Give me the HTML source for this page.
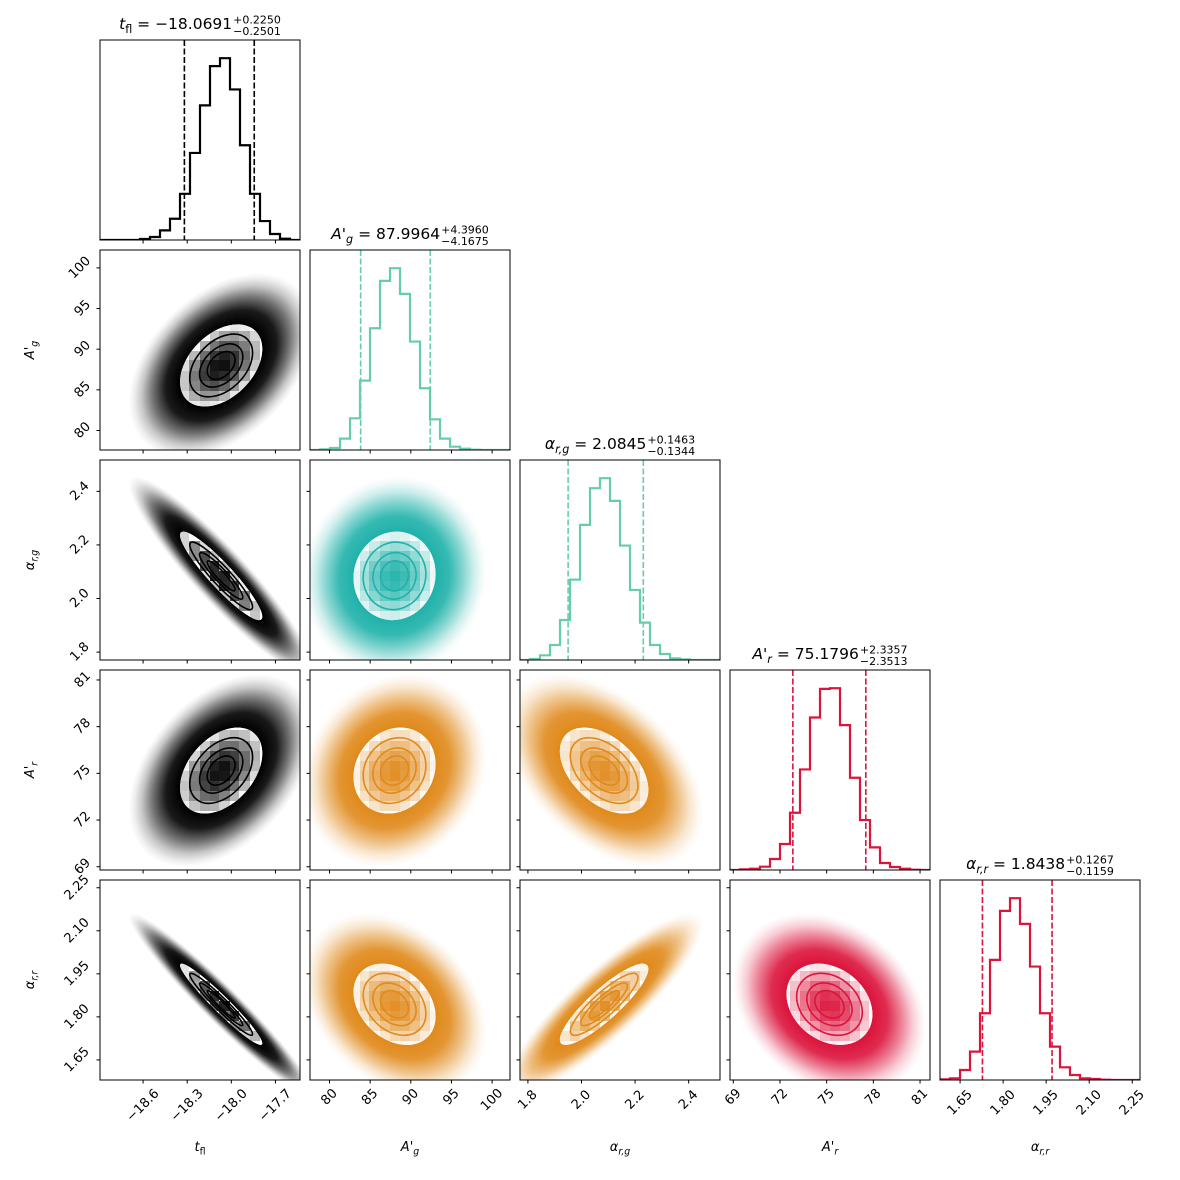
<!DOCTYPE html>
<html><head><meta charset="utf-8"><style>
html,body{margin:0;padding:0;background:#fff;}
svg{display:block;font-family:"DejaVu Sans","Liberation Sans",sans-serif;}
</style></head><body>
<svg id="fig" width="1180" height="1180" viewBox="0 0 1180 1180" xmlns="http://www.w3.org/2000/svg"><defs id="defs"></defs></svg>
<script>
// ---- data ----
const paramKeys = ["t_fl","Ag","arg","Ar","arr"];
const medians = [-18.0691, 87.9964, 2.0845, 75.1796, 1.8438];
const errPlus = [0.2250, 4.3960, 0.1463, 2.3357, 0.1267];
const errMinus = [0.2501, 4.1675, 0.1344, 2.3513, 0.1159];
const medianText = ["\u221218.0691","87.9964","2.0845","75.1796","1.8438"];
const plusText = ["+0.2250","+4.3960","+0.1463","+2.3357","+0.1267"];
const minusText = ["\u22120.2501","\u22124.1675","\u22120.1344","\u22122.3513","\u22120.1159"];
const sigmas = [0.237, 4.28, 0.14, 2.34, 0.12];
const rangeLo = [-18.893, 77.6, 1.7705, 68.79, 1.580];
const rangeHi = [-17.533, 102.2, 2.517, 81.64, 2.277];
const histT = [0,0,0,0,3,9,29,64,139,262,405,523,547,453,285,139,57,18,4,0];
const histAg = [0,2,6,34,95,208,365,507,545,468,325,185,92,34,10,4,1,0,0,0];
const histArg = [0,3,14,45,120,241,405,515,545,477,343,210,112,45,18,5,2,0,0,0];
const histAr = [0,2,4,10,33,78,172,302,458,544,546,435,277,150,68,21,9,4,1,0];
const histArr = [2,5,30,85,200,360,507,545,468,340,200,100,38,15,5,3,1,0,0,0];
const hists = [histT, histAg, histArg, histAr, histArr];
const ticksT = [-18.6,-18.3,-18.0,-17.7];
const ticksAg = [80,85,90,95,100];
const ticksArg = [1.8,2.0,2.2,2.4];
const ticksAr = [69,72,75,78,81];
const ticksArr = [1.65,1.80,1.95,2.10,2.25];
const tickLists = [ticksT, ticksAg, ticksArg, ticksAr, ticksArr];
const tickLabT = ["\u221218.6","\u221218.3","\u221218.0","\u221217.7"];
const tickLabAg = ["80","85","90","95","100"];
const tickLabArg = ["1.8","2.0","2.2","2.4"];
const tickLabAr = ["69","72","75","78","81"];
const tickLabArr = ["1.65","1.80","1.95","2.10","2.25"];
const tickLabLists = [tickLabT, tickLabAg, tickLabArg, tickLabAr, tickLabArr];
// correlations (row param vs col param)
const corrRow1 = [0.4];
const corrRow2 = [-0.92, 0.05];
const corrRow3 = [0.4, 0.15, -0.45];
const corrRow4 = [-0.96, -0.3, 0.87, -0.25];
const corrRows = [[], corrRow1, corrRow2, corrRow3, corrRow4];
const contourLevels = [0.4, 0.62, 0.9];
const fillLevel = 1.18;
// ---- styling ----
const histColors = ["#000000","#66cdaa","#66cdaa","#dc143c","#dc143c"];
function pairColor(r,c){ if(c===0) return "#000000"; if(r===2) return "#20b2aa"; if(r===4&&c===3) return "#dc143c"; return "#e08a1c"; }
const NS="http://www.w3.org/2000/svg";
const svg=document.getElementById("fig"), defs=document.getElementById("defs");
function el(tag, attrs, parent){ const e=document.createElementNS(NS,tag); for(const k in attrs) e.setAttribute(k,attrs[k]); (parent||svg).appendChild(e); return e; }
const P=200, G=10, X0=100, Y0=40;
function px0(c){return X0+c*(P+G);} function py0(r){return Y0+r*(P+G);}
function xs(i,v,c){ return px0(c)+(v-rangeLo[i])/(rangeHi[i]-rangeLo[i])*P; }
function ys(i,v,r){ return py0(r)+P-(v-rangeLo[i])/(rangeHi[i]-rangeLo[i])*P; }
function hexRgb(h){return [parseInt(h.substr(1,2),16),parseInt(h.substr(3,2),16),parseInt(h.substr(5,2),16)];}

// ---- panels ----
for(let r=0;r<5;r++){
 for(let c=0;c<=r;c++){
  const x0=px0(c), y0=py0(r);
  const g=el("g",{});
  
  
  const cp=el("clipPath",{id:"cp"+r+c},defs); el("rect",{x:x0,y:y0,width:P,height:P},cp);
  const inner=el("g",{"clip-path":"url(#cp"+r+c+")"},g);
  if(r===c){
   const h=hists[c], mx=Math.max(...h), nb=h.length;
   let d="";
   for(let b=0;b<nb;b++){
     const xa=xs(c,rangeLo[c]+(rangeHi[c]-rangeLo[c])*b/nb,c), xb=xs(c,rangeLo[c]+(rangeHi[c]-rangeLo[c])*(b+1)/nb,c);
     const yy=y0+P-h[b]/(mx*1.1)*P;
     d+=(b===0?"M"+xa+" "+yy:"L"+xa+" "+yy)+" L"+xb+" "+yy+" ";
   }
   const hp=el("path",{d:d,fill:"none",stroke:histColors[c],"stroke-width":2.2,"stroke-linejoin":"miter"},inner);
   
   
   [medians[c]-errMinus[c], medians[c]+errPlus[c]].forEach((q,qi)=>{
     const xq=xs(c,q,c);
     const ql=el("line",{x1:xq,x2:xq,y1:y0,y2:y0+P,stroke:histColors[c],"stroke-width":1.6,"stroke-dasharray":"6,2.5"},inner);
     
     
   });
  } else {
   const col=pairColor(r,c), rgb=hexRgb(col);
   const rho=corrRows[r][c];
   const sx=sigmas[c]*P/(rangeHi[c]-rangeLo[c]), sy=sigmas[r]*P/(rangeHi[r]-rangeLo[r]);
   const a=sx*sx, dd=sy*sy, cc=-rho*sx*sy;
   const th=0.5*Math.atan2(2*cc,a-dd)*180/Math.PI;
   const s=Math.sqrt(((a-dd)/2)**2+cc*cc);
   const l1=Math.sqrt((a+dd)/2+s), l2=Math.sqrt(Math.max((a+dd)/2-s,0.01));
   const cx=xs(c,medians[c],c), cy=ys(r,medians[r],r);
   const gid="gr"+r+c;
   const rg=el("radialGradient",{id:gid},defs);
   const stops=[[0,1],[0.45,1],[0.6,0.9],[0.74,0.55],[0.86,0.22],[0.94,0.07],[1,0]];
   stops.forEach(st=>el("stop",{offset:st[0],"stop-color":col,"stop-opacity":st[1]},rg));
   const R=2.65;
   const cloud=el("ellipse",{cx:cx,cy:cy,rx:R*l1,ry:R*l2,fill:"url(#"+gid+")",transform:"rotate("+th+" "+cx+" "+cy+")"},inner);
   
   
   el("ellipse",{cx:cx,cy:cy,rx:fillLevel*l1,ry:fillLevel*l2,fill:"#fff",transform:"rotate("+th+" "+cx+" "+cy+")"},inner);
   // density cells
   const cellG=el("g",{"shape-rendering":"crispEdges"},inner);
   
   
   const nb=20;
   for(let i=0;i<nb;i++)for(let j=0;j<nb;j++){
     const vx=rangeLo[c]+(rangeHi[c]-rangeLo[c])*(i+0.5)/nb, vy=rangeLo[r]+(rangeHi[r]-rangeLo[r])*(j+0.5)/nb;
     const dx=(vx-medians[c])/sigmas[c], dy=(vy-medians[r])/sigmas[r];
     const m2=(dx*dx-2*rho*dx*dy+dy*dy)/(1-rho*rho);
     if(Math.sqrt(m2)>fillLevel*2) continue;
     const t=Math.exp(-0.5*m2);
     const f=Math.max(0,Math.min(1,(t-0.45)/0.55))*0.95;
     const cr=Math.round(255+(rgb[0]-255)*f), cg=Math.round(255+(rgb[1]-255)*f), cb=Math.round(255+(rgb[2]-255)*f);
     const xa=Math.floor(xs(c,rangeLo[c]+(rangeHi[c]-rangeLo[c])*i/nb,c)), ya=Math.floor(ys(r,rangeLo[r]+(rangeHi[r]-rangeLo[r])*(j+1)/nb,r));
     el("rect",{x:xa,y:ya,width:P/nb+1,height:P/nb+1,fill:"rgb("+cr+","+cg+","+cb+")"},cellG);
   }
   const clipW=el("clipPath",{id:"cw"+r+c},defs);
   el("ellipse",{cx:cx,cy:cy,rx:fillLevel*l1,ry:fillLevel*l2,transform:"rotate("+th+" "+cx+" "+cy+")"},clipW);
   cellG.setAttribute("clip-path","url(#cw"+r+c+")");
   contourLevels.forEach((lv,li)=>{
     const ce=el("ellipse",{cx:cx,cy:cy,rx:lv*l1,ry:lv*l2,fill:"none",stroke:col,"stroke-width":1.6,transform:"rotate("+th+" "+cx+" "+cy+")"},inner);
     
     
   });
   // y ticks
   tickLists[r].forEach((tv,ti)=>{
     const ty=ys(r,tv,r);
     if(ty<y0-0.5||ty>y0+P+0.5) return;
     el("line",{x1:x0-3.5,x2:x0,y1:ty,y2:ty,stroke:"#000","stroke-width":1},g);
     if(c===0){
       const lab=tickLabLists[r][ti];
       const w=(lab.length*8+13)*0.7071;
       const tx=x0-7-w/2;
       const t=el("text",{x:tx,y:ty,"font-size":13,"text-anchor":"middle","dominant-baseline":"central",transform:"rotate(-45 "+tx+" "+ty+")"},svg);
       t.textContent=lab;
       
       
     }
   });
  }
  // x ticks
  tickLists[c].forEach((tv,ti)=>{
    const tx=xs(c,tv,c);
    if(tx<x0-0.5||tx>x0+P+0.5) return;
    el("line",{x1:tx,x2:tx,y1:y0+P,y2:y0+P+3.5,stroke:"#000","stroke-width":1},g);
    if(r===4){
      const lab=tickLabLists[c][ti];
      const w=(lab.length*8+13)*0.7071;
      const ty=y0+P+7+w/2;
      const t=el("text",{x:tx,y:ty,"font-size":13,"text-anchor":"middle","dominant-baseline":"central",transform:"rotate(-45 "+tx+" "+ty+")"},svg);
      t.textContent=lab;
      
      
    }
  });
  const fr=el("rect",{x:x0,y:y0,width:P,height:P,fill:"none",stroke:"#000","stroke-width":1},g);
  
  
 }
}

// ---- labels ----
function labelSpans(t,i,fs){
  const sub=(s,it)=>{const e=el("tspan",{"font-size":fs*0.72,"dy":fs*0.25,"font-style":it?"italic":"normal"},t);e.textContent=s;};
  const main=(s,it)=>{const e=el("tspan",{"font-style":it?"italic":"normal"},t);e.textContent=s;};
  if(i===0){main("t",true);sub("fl",false);}
  else if(i===1){main("A'",true);sub("g",true);}
  else if(i===2){main("\u03b1",true);sub("r,g",true);}
  else if(i===3){main("A'",true);sub("r",true);}
  else {main("\u03b1",true);sub("r,r",true);}
}
for(let i=0;i<5;i++){
  const cx=px0(i)+P/2;
  const xl=el("text",{x:cx,y:1151,"font-size":13,"text-anchor":"middle"});
  labelSpans(xl,i,13);
  
  
  if(i>0){
    const cy=py0(i)+P/2;
    const yl=el("text",{x:34,y:cy,"font-size":13,"text-anchor":"middle",transform:"rotate(-90 34 "+cy+")"});
    labelSpans(yl,i,13);
    
    
  }
  // title
  const tg=el("g",{});
  
  
  const top=py0(i);
  const tt=el("text",{x:0,y:top-11,"font-size":15.5},tg);
  labelSpans(tt,i,15.5);
  const rest=el("tspan",{dy:-15.5*0.25},tt); rest.textContent=" = "+medianText[i];
  const w=tt.getComputedTextLength();
  const sp=el("text",{x:w+1,y:top-16.5,"font-size":11},tg); sp.textContent=plusText[i];
  const sm=el("text",{x:w+1,y:top-5,"font-size":11},tg); sm.textContent=minusText[i];
  const w2=Math.max(sp.getComputedTextLength(),sm.getComputedTextLength());
  const total=w+1+w2;
  tg.setAttribute("transform","translate("+(px0(i)+P/2-total/2)+",0)");
}
</script>
</body></html>
